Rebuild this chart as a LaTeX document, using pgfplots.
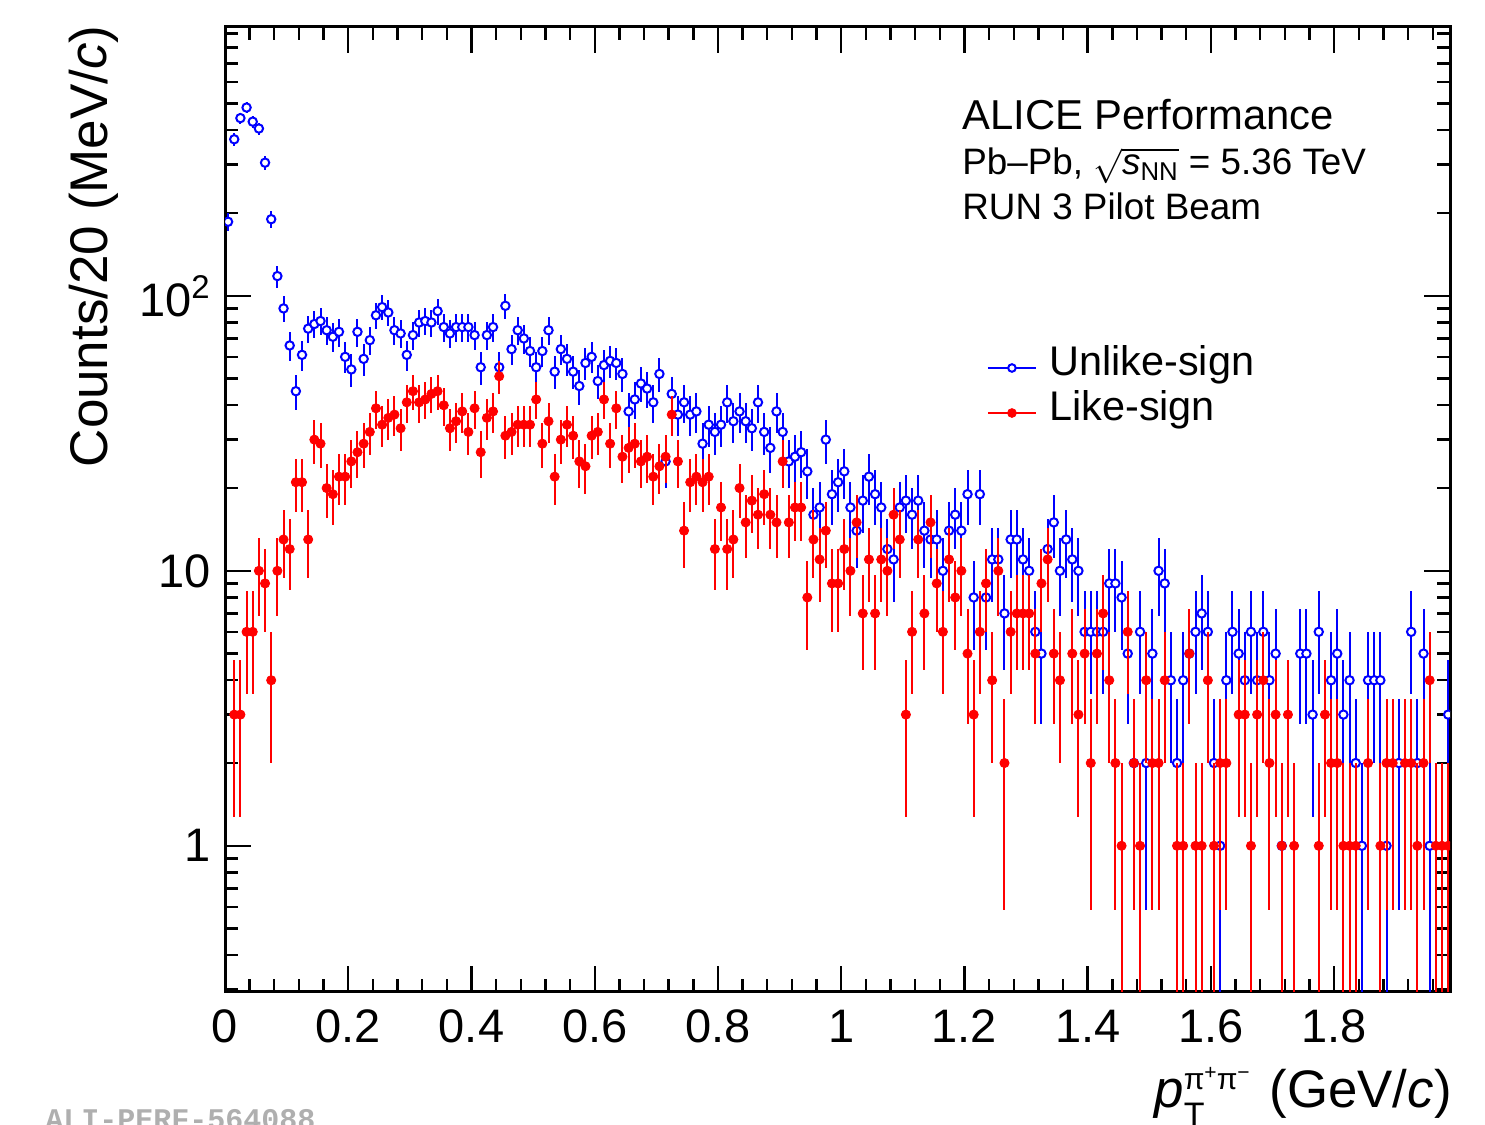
\documentclass[border=0pt]{standalone}
\usepackage{fontspec}
\setmainfont{Liberation Sans}
\setmonofont{Liberation Mono}
\usepackage{amsmath}
\usepackage{pgfplots}
\usepackage{pgfplotstable}
\pgfplotsset{compat=1.18}

\definecolor{rootblue}{RGB}{0,0,255}
\definecolor{rootred}{RGB}{255,0,0}
\definecolor{wmgray}{RGB}{175,175,175}

% pi+ pi- pair counts per 10 MeV/c bin, unlike-sign pairs
\pgfplotstableread{
x n
0.005 186
0.015 371
0.025 443
0.035 484
0.045 430
0.055 406
0.065 305
0.075 190
0.085 118
0.095 90
0.105 66
0.115 45
0.125 61
0.135 76
0.145 79
0.155 81
0.165 75
0.175 71
0.185 74
0.195 60
0.205 54
0.215 74
0.225 59
0.235 69
0.245 85
0.255 91
0.265 87
0.275 75
0.285 73
0.295 61
0.305 72
0.315 80
0.325 81
0.335 80
0.345 88
0.355 77
0.365 73
0.375 77
0.385 77
0.395 77
0.405 72
0.415 55
0.425 72
0.435 77
0.445 55
0.455 92
0.465 64
0.475 75
0.485 70
0.495 63
0.505 55
0.515 63
0.525 75
0.535 53
0.545 64
0.555 59
0.565 53
0.575 47
0.585 57
0.595 60
0.605 49
0.615 56
0.625 58
0.635 57
0.645 52
0.655 38
0.665 42
0.675 48
0.685 46
0.695 41
0.705 52
0.715 25
0.725 44
0.735 37
0.745 41
0.755 37
0.765 38
0.775 29
0.785 34
0.795 32
0.805 34
0.815 41
0.825 35
0.835 38
0.845 35
0.855 33
0.865 41
0.875 32
0.885 28
0.895 38
0.905 32
0.915 25
0.925 26
0.935 27
0.945 23
0.955 16
0.965 17
0.975 30
0.985 19
0.995 21
1.005 23
1.015 17
1.025 14
1.035 18
1.045 22
1.055 19
1.065 17
1.075 12
1.085 11
1.095 17
1.105 18
1.115 16
1.125 18
1.135 14
1.145 13
1.155 13
1.165 10
1.175 14
1.185 16
1.195 14
1.205 19
1.215 8
1.225 19
1.235 8
1.245 11
1.255 11
1.265 7
1.275 13
1.285 13
1.295 11
1.305 10
1.315 6
1.325 5
1.335 12
1.345 15
1.355 10
1.365 13
1.375 11
1.385 10
1.395 6
1.405 6
1.415 6
1.425 6
1.435 9
1.445 9
1.455 8
1.465 5
1.475 2
1.485 6
1.495 2
1.505 5
1.515 10
1.525 9
1.535 4
1.545 2
1.555 4
1.565 5
1.575 6
1.585 7
1.595 6
1.605 2
1.615 1
1.625 4
1.635 6
1.645 5
1.655 4
1.665 6
1.675 4
1.685 6
1.695 4
1.705 5
1.715 1
1.745 5
1.755 5
1.765 3
1.775 6
1.795 4
1.805 5
1.815 3
1.825 4
1.835 2
1.845 1
1.855 4
1.865 4
1.875 4
1.885 1
1.905 2
1.925 6
1.935 2
1.945 5
1.955 1
1.985 3
}\unlikesign

% like-sign pairs, same binning
\pgfplotstableread{
x n
0.015 3
0.025 3
0.035 6
0.045 6
0.055 10
0.065 9
0.075 4
0.085 10
0.095 13
0.105 12
0.115 21
0.125 21
0.135 13
0.145 30
0.155 29
0.165 20
0.175 19
0.185 22
0.195 22
0.205 25
0.215 27
0.225 29
0.235 32
0.245 39
0.255 34
0.265 36
0.275 37
0.285 33
0.295 41
0.305 45
0.315 41
0.325 42
0.335 44
0.345 45
0.355 40
0.365 33
0.375 35
0.385 38
0.395 32
0.405 39
0.415 27
0.425 36
0.435 38
0.445 51
0.455 31
0.465 32
0.475 34
0.485 34
0.495 34
0.505 42
0.515 29
0.525 35
0.535 22
0.545 30
0.555 34
0.565 31
0.575 25
0.585 24
0.595 31
0.605 32
0.615 42
0.625 29
0.635 39
0.645 26
0.655 28
0.665 29
0.675 25
0.685 26
0.695 22
0.705 24
0.715 26
0.725 37
0.735 25
0.745 14
0.755 21
0.765 22
0.775 21
0.785 22
0.795 12
0.805 17
0.815 12
0.825 13
0.835 20
0.845 15
0.855 18
0.865 16
0.875 19
0.885 16
0.895 15
0.905 25
0.915 15
0.925 17
0.935 17
0.945 8
0.955 13
0.965 11
0.975 14
0.985 9
0.995 9
1.005 12
1.015 10
1.025 15
1.035 7
1.045 11
1.055 7
1.065 11
1.075 10
1.085 16
1.095 13
1.105 3
1.115 6
1.125 13
1.135 7
1.145 15
1.155 9
1.165 6
1.175 11
1.185 8
1.195 10
1.205 5
1.215 3
1.225 6
1.235 9
1.245 4
1.255 10
1.265 2
1.275 6
1.285 7
1.295 7
1.305 7
1.315 5
1.325 9
1.335 11
1.345 5
1.355 4
1.375 5
1.385 3
1.395 5
1.405 2
1.415 5
1.425 7
1.435 4
1.445 2
1.455 1
1.465 6
1.475 2
1.485 1
1.495 4
1.505 2
1.515 2
1.525 4
1.545 1
1.555 1
1.565 5
1.575 1
1.585 1
1.595 4
1.605 1
1.615 2
1.625 2
1.645 3
1.655 3
1.665 1
1.675 3
1.685 4
1.695 2
1.705 3
1.715 1
1.725 3
1.735 1
1.775 1
1.785 3
1.795 2
1.805 2
1.815 1
1.825 1
1.835 1
1.855 2
1.875 1
1.885 2
1.895 2
1.915 2
1.925 2
1.935 1
1.945 2
1.955 4
1.965 1
1.975 1
1.985 1
}\likesign

\begin{document}
\begin{tikzpicture}
\useasboundingbox (0,0) rectangle (742.5pt,562.5pt);
\begin{axis}[
  at={(112.5pt,66.5pt)}, anchor=south west,
  scale only axis, width=612.5pt, height=482.5pt,
  ymode=log,
  xmin=0, xmax=1.988, ymin=0.294, ymax=950,
  axis line style={line width=1.5pt},
  every tick/.style={black, line width=1.2pt},
  major tick length=13pt, minor tick length=6.5pt,
  tick align=inside, xtick pos=both, ytick pos=both,
  xtick={0,0.2,0.4,0.6,0.8,1,1.2,1.4,1.6,1.8},
  xticklabels={0,0.2,0.4,0.6,0.8,1,1.2,1.4,1.6,1.8},
  minor xtick={0.04,0.08,0.12,0.16,0.24,0.28,0.32,0.36,0.44,0.48,0.52,0.56,
    0.64,0.68,0.72,0.76,0.84,0.88,0.92,0.96,1.04,1.08,1.12,1.16,1.24,1.28,1.32,1.36,
    1.44,1.48,1.52,1.56,1.64,1.68,1.72,1.76,1.84,1.88,1.92,1.96},
  ytick={1,10,100},
  yticklabels={1,10,10\textsuperscript{2}},
  minor ytick={0.3,0.4,0.5,0.6,0.7,0.8,0.9,2,3,4,5,6,7,8,9,
    20,30,40,50,60,70,80,90,200,300,400,500,600,700,800,900},
  /pgf/number format/assume math mode=true,
  ticklabel style={font=\fontsize{23.5pt}{27pt}\selectfont},
  xticklabel style={yshift=-5.5pt},
  yticklabel style={xshift=-3.6pt},
  clip marker paths=true,
  legend style={draw=none, fill=none, at={(axis description cs:0.622,0.6233)},
    anchor=west, inner sep=0pt, outer sep=0pt, row sep=0pt,
    font=\fontsize{20.7pt}{22.5pt}\selectfont,
    nodes={inner sep=0pt, text height=15pt, text depth=7.5pt}},
  legend cell align=left,
]
\addplot[only marks, mark=*, mark size=2.1pt,
  mark options={draw=rootblue, fill=white, line width=1pt},
  legend image code/.code={
    \draw[rootblue, line width=1pt] (0pt,0pt) -- (24pt,0pt);
    \draw[only marks, mark=*, mark size=1.9pt,
      mark options={draw=rootblue, fill=white, line width=1pt}]
      plot coordinates {(12pt,0pt)};
    \path (30.5pt,0pt);},
  error bars/.cd, y dir=both, y explicit, error mark=none,
  error bar style={rootblue, line width=1pt}]
  table[x=x, y=n,
    y error plus expr={sqrt(\thisrow{n})},
    y error minus expr={min(sqrt(\thisrow{n}),0.999*\thisrow{n})}]
  {\unlikesign};
\addlegendentry{Unlike-sign}
\addplot[only marks, mark=*, mark size=2.3pt,
  mark options={draw=rootred, fill=rootred, line width=0.4pt},
  legend image code/.code={
    \draw[rootred, line width=1pt] (0pt,0pt) -- (24pt,0pt);
    \draw[only marks, mark=*, mark size=2.2pt,
      mark options={draw=rootred, fill=rootred, line width=0.4pt}]
      plot coordinates {(12pt,0pt)};
    \path (30.5pt,0pt);},
  error bars/.cd, y dir=both, y explicit, error mark=none,
  error bar style={rootred, line width=1pt}]
  table[x=x, y=n,
    y error plus expr={sqrt(\thisrow{n})},
    y error minus expr={min(sqrt(\thisrow{n}),0.999*\thisrow{n})}]
  {\likesign};
\addlegendentry{Like-sign}
\end{axis}

% axis titles
\node[rotate=90, anchor=base east, inner sep=0pt,
  font=\fontsize{26.5pt}{30pt}\selectfont] at (53.5pt,550pt)
  {Counts/20 (MeV/\textit{c})};
\node[anchor=base east, inner sep=0pt,
  font=\fontsize{26.4pt}{30pt}\selectfont] at (726pt,8.5pt)
  {$\textit{p}_{\text{\raisebox{-3pt}{\fontsize{17pt}{17pt}\selectfont T}}}^{\text{\fontsize{15pt}{15pt}\selectfont π\textsuperscript{+}\kern-0.5pt π\textsuperscript{−}}}$\kern9pt (GeV/\textit{c})};

% labels
\node[anchor=base west, inner sep=0pt, font=\fontsize{20.9pt}{24pt}\selectfont]
  at (481pt,497.5pt) {ALICE Performance};
\node[anchor=base west, inner sep=0pt, font=\fontsize{18.4pt}{22pt}\selectfont]
  at (481pt,475pt) {Pb–Pb, $\sqrt{\text{\textit{s}}_{\text{NN}}}$ = 5.36 TeV};
\node[anchor=base west, inner sep=0pt, font=\fontsize{18.4pt}{22pt}\selectfont]
  at (481pt,452.5pt) {RUN 3 Pilot Beam};

\node[anchor=base west, inner sep=0pt, text=wmgray,
  font=\ttfamily\bfseries\fontsize{15pt}{15pt}\selectfont]
  at (22.5pt,-2.5pt) {ALI-PERF-564088};
\end{tikzpicture}
\end{document}
